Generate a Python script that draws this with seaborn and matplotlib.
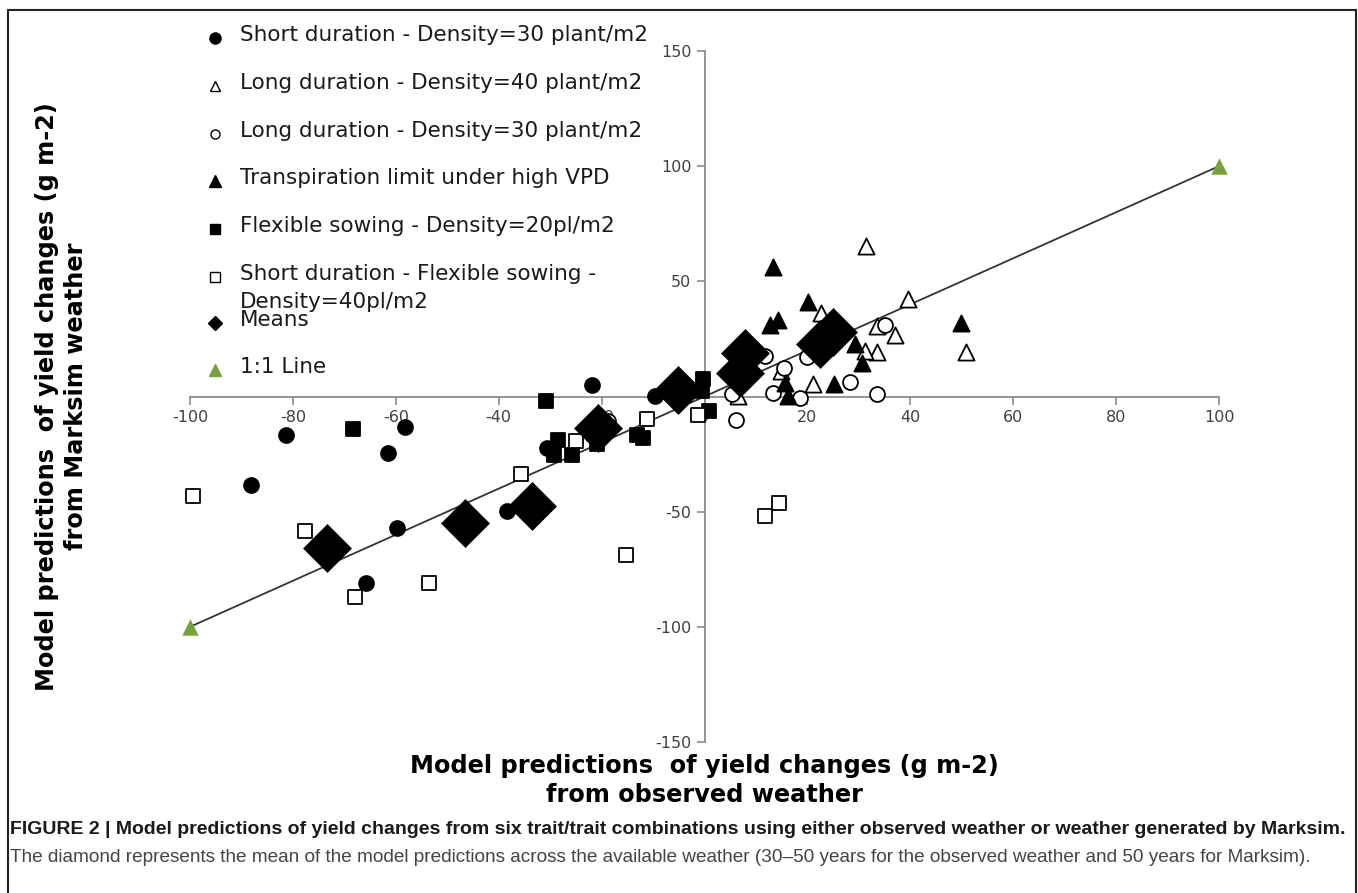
import matplotlib
matplotlib.use('Agg')
import matplotlib.pyplot as plt
import seaborn as sns
from matplotlib.lines import Line2D
from matplotlib.patches import Rectangle

# Short duration - Density=30 plant/m2 (filled circles)
short30_x = [-88.1, -81.4, -61.6, -58.3, -59.8, -65.8, -38.3, -30.6, -21.9, -9.6]
short30_y = [-38.6, -16.5, -24.4, -13.3, -57.0, -80.8, -49.8, -22.3, 4.8, 0.1]

# Long duration - Density=40 plant/m2 (open triangles)
long40_x = [31.4, 39.5, 22.6, 33.6, 37.1, 50.8, 33.6, 31.2, 14.9, 21.0, 6.5]
long40_y = [65.2, 42.4, 36.3, 30.8, 26.9, 19.2, 19.2, 19.7, 11.0, 5.6, 0.1]

# Long duration - Density=30 plant/m2 (open circles)
long30_x = [35.1, 11.8, 19.9, 15.4, 28.2, 13.3, 18.5, 33.6, 5.3, 6.2, -18.7]
long30_y = [31.2, 17.8, 17.2, 12.4, 6.2, 1.6, -0.6, 0.9, 1.3, -10.0, -10.7]

# Transpiration limit under high VPD (filled triangles)
transp_x = [13.3, 20.1, 12.8, 14.2, 49.9, 29.3, 30.6, 15.7, 25.1, 16.2]
transp_y = [56.1, 40.9, 31.2, 33.1, 31.7, 22.6, 14.6, 5.9, 5.6, 0.1]

# Flexible sowing - Density=20pl/m2 (filled squares)
flex20_x = [-68.4, -30.9, -0.2, -0.5, 0.8, -28.5, -29.2, -25.8, -20.9, -13.2, -11.9]
flex20_y = [-13.9, -2.0, 7.4, 2.3, -6.4, -18.7, -25.2, -25.6, -20.8, -16.9, -17.9]

# Short duration - Flexible sowing - Density=40pl/m2 (open squares)
sflex40_x = [-99.5, -77.7, -67.9, -53.5, -35.7, -25.0, -11.2, -1.2, -15.3, 11.8, 14.5]
sflex40_y = [-43.0, -58.4, -86.9, -80.8, -33.8, -19.4, -9.7, -8.2, -69.0, -51.9, -46.4]

# Means (big diamonds)
means_x = [-73.3, -46.6, -33.6, -20.7, -5.1, 6.9, 7.9, 22.5, 25.0]
means_y = [-65.6, -55.1, -47.6, -13.6, 3.0, 10.3, 18.9, 23.0, 28.0]

# 1:1 line end points
line_x = [-100, 100]
line_y = [-100, 100]

xticks = [-100, -80, -60, -40, -20, 0, 20, 40, 60, 80, 100]
yticks = [-150, -100, -50, 50, 100, 150]

legend_labels = ['Short duration - Density=30 plant/m2',
                 'Long duration - Density=40 plant/m2',
                 'Long duration - Density=30 plant/m2',
                 'Transpiration limit under high VPD',
                 'Flexible sowing - Density=20pl/m2',
                 'Short duration - Flexible sowing -\nDensity=40pl/m2',
                 'Means',
                 '1:1 Line']

sns.set_style('white')
plt.rcParams['font.family'] = ['DejaVu Sans']
plt.rcParams['axes.unicode_minus'] = False

green = '#79a03f'
axis_grey = '#8c8c8c'

W, H = 1358, 893
fig = plt.figure(figsize=(W / 100, H / 100), dpi=100)
ax = fig.add_axes([190 / W, 1 - 742 / H, 1029 / W, 691 / H])

# 1:1 line with green triangles at the ends
sns.lineplot(x=line_x, y=line_y, ax=ax, color='#333333', linewidth=1.3, zorder=2)
sns.scatterplot(x=line_x, y=line_y, ax=ax, marker='^', s=140, color=green,
                edgecolor=green, linewidth=0, zorder=3, clip_on=False)

series = [
    (short30_x, short30_y, 'o', 'black', 115),
    (long40_x, long40_y, '^', 'white', 135),
    (long30_x, long30_y, 'o', 'white', 115),
    (transp_x, transp_y, '^', 'black', 135),
    (flex20_x, flex20_y, 's', 'black', 105),
    (sflex40_x, sflex40_y, 's', 'white', 105),
]
for xs, ys, mk, fc, size in series:
    sns.scatterplot(x=xs, y=ys, ax=ax, marker=mk, s=size, color=fc,
                    edgecolor='black', linewidth=1.3, zorder=4, clip_on=False)

sns.scatterplot(x=means_x, y=means_y, ax=ax, marker='D', s=620, color='black',
                edgecolor='black', linewidth=0, zorder=5)

ax.set_xlim(-100, 100)
ax.set_ylim(-150, 150)
ax.set_xticks(xticks)
ax.set_yticks(yticks)

# axes crossing at the origin
ax.spines['left'].set_position(('data', 0))
ax.spines['bottom'].set_position(('data', 0))
ax.spines['top'].set_visible(False)
ax.spines['right'].set_visible(False)
for s in ['left', 'bottom']:
    ax.spines[s].set_color(axis_grey)
    ax.spines[s].set_linewidth(1.3)
ax.tick_params(direction='out', length=6, width=1.2, color=axis_grey,
               labelcolor='#404040', labelsize=11.5, left=True, bottom=True)

ax.set_xlabel('Model predictions  of yield changes (g m-2)\nfrom observed weather',
              fontsize=17.3, fontweight='bold', color='black', va='center',
              linespacing=1.25)
ax.xaxis.set_label_coords(0.5, -0.056)
ax.set_ylabel('Model predictions  of yield changes (g m-2)\nfrom Marksim weather',
              fontsize=17.3, fontweight='bold', color='black', va='center',
              linespacing=1.25)
ax.yaxis.set_label_coords(-0.125, 0.5)

# legend drawn like the Excel one: marker column + text column
legend_markers = [
    dict(marker='o', ms=8, mfc='black', mec='black'),
    dict(marker='^', ms=7.5, mfc='white', mec='black', mew=1),
    dict(marker='o', ms=6.5, mfc='white', mec='black', mew=1),
    dict(marker='^', ms=9, mfc='black', mec='black'),
    dict(marker='s', ms=7.5, mfc='black', mec='black'),
    dict(marker='s', ms=7, mfc='white', mec='black', mew=1),
    dict(marker='D', ms=7, mfc='black', mec='black'),
    dict(marker='^', ms=9, mfc=green, mec=green),
]
legend_rows = [38, 86, 134, 181, 229, 277, 323, 370]
for lab, mk, row in zip(legend_labels, legend_markers, legend_rows):
    fig.add_artist(Line2D([215 / W], [1 - row / H], ls='', transform=fig.transFigure, **mk))
    fig.text(240 / W, 1 - (row - 13) / H, lab, fontsize=15.5, color='#1a1a1a',
             va='top', ha='left', linespacing=1.5)

# figure frame
fig.add_artist(Rectangle((8 / W, -0.01), 1348 / W, 1 - 10 / H + 0.01,
                         transform=fig.transFigure, fill=False,
                         edgecolor='#222222', linewidth=1.5))

# caption
fig.text(10 / W, 1 - 830 / H,
         'FIGURE 2 | Model predictions of yield changes from six trait/trait combinations '
         'using either observed weather or weather generated by Marksim.',
         fontsize=14, fontweight='bold', family=['Liberation Sans Narrow', 'Liberation Sans'],
         color='#1a1a1a', va='center', ha='left')
fig.text(10 / W, 1 - 857 / H,
         'The diamond represents the mean of the model predictions across the available weather '
         '(30\u201350 years for the observed weather and 50 years for Marksim).',
         fontsize=13.7, family=['Liberation Sans Narrow', 'Liberation Sans'],
         color='#444444', va='center', ha='left')

fig.savefig('out.png', dpi=100)
